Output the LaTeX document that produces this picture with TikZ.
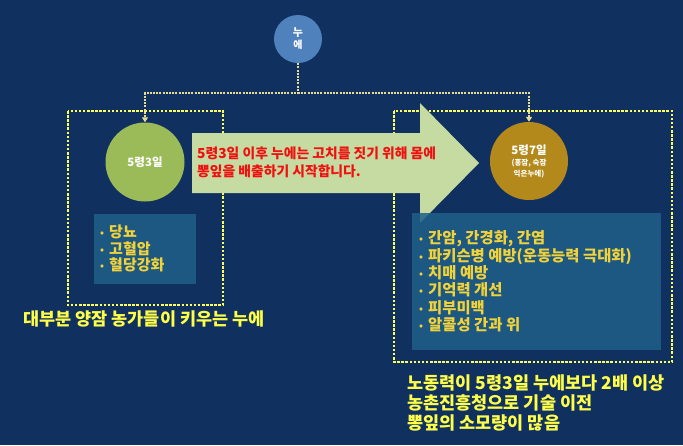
\documentclass[tikz,border=0pt]{standalone}
\usepackage{fontspec}
\setmainfont{Noto Sans CJK KR}
\usetikzlibrary{arrows.meta}
\definecolor{bg}{HTML}{10315F}
\definecolor{topblue}{HTML}{4F81BD}
\definecolor{leftgreen}{HTML}{9BBB59}
\definecolor{goldc}{HTML}{B3891B}
\definecolor{panelc}{HTML}{1F5F88}
\definecolor{arrowc}{HTML}{C6DBA1}
\definecolor{boxyellow}{HTML}{FFFF5A}
\definecolor{connc}{HTML}{E6DC96}
\definecolor{listyellow}{HTML}{F2D23A}
\definecolor{bottomyellow}{HTML}{FFFF4A}
\definecolor{msgred}{HTML}{F01010}
\newcommand\bul{\raisebox{1pt}{\fontsize{10}{10}\selectfont •}\hspace{5pt}}
\begin{document}
\begin{tikzpicture}[x=1pt,y=-1pt]
\useasboundingbox (0,0) rectangle (683,445);
\fill[bg] (0,0) rectangle (683,445);
\tikzset{
  circ/.style={circle, inner sep=0pt, text=white, align=center, font=\bfseries},
  dotbox/.style={draw=boxyellow, line width=2.5pt, dash pattern=on 2.5pt off 1.6pt},
  panel/.style={fill=panelc, fill opacity=0.85, inner sep=0pt, anchor=north west},
  conn/.style={draw=connc, line width=2pt, dash pattern=on 2pt off 1.2pt, -{Triangle[width=6pt,length=5pt]}},
  listtext/.style={anchor=west, align=left, text=listyellow, inner sep=0pt},
  bottomtext/.style={align=left, text=bottomyellow, font=\bfseries\fontsize{17.5}{20}\selectfont, inner sep=0pt},
}
% dotted boxes
\draw[dotbox] (68,111) rectangle (223,305);
\draw[dotbox] (394,111) rectangle (672,362);
% circles
\node[circ, fill=topblue, minimum size=48pt] (silk) at (298,39) {\fontsize{11}{14}\selectfont 누\\에};
\node[circ, fill=leftgreen, minimum size=79pt] (c3) at (145,162) {\fontsize{11.5}{13}\selectfont 5령3일};
\node[circ, fill=goldc, minimum size=78pt] (c7) at (529,161) {\fontsize{11.5}{12}\selectfont 5령7일\\[-1pt]{\fontsize{7.5}{10}\selectfont (홍잠, 숙잠}\\[-1pt]{\fontsize{7.5}{10}\selectfont 익은누에)}};
% connectors
\coordinate (j) at (298,93);
\draw[conn] (silk.south) -- (j) -| (c3.north);
\draw[conn] (j) -| (c7.north);
% big arrow
\fill[arrowc] (192,133) -- (420,133) -- (420,103) -- (479,163) -- (420,223) -- (420,193) -- (192,193) -- cycle;
\node[anchor=west, align=left, text=msgred, inner sep=0pt, font=\bfseries\fontsize{13.8}{18}\selectfont] (msg) at (197,162) {5령3일 이후 누에는 고치를 짓기 위해 몸에\\뽕잎을 배출하기 시작합니다.};
% panels
\node[panel, minimum width=102pt, minimum height=70pt] (p3) at (94,214) {};
\node[panel, minimum width=249pt, minimum height=137pt] (p7) at (412,213) {};
\node[listtext, font=\bfseries\fontsize{15}{16.6}\selectfont] (t3) at (100,248.5) {\bul 당뇨\\\bul 고혈압\\\bul 혈당강화};
\node[listtext, font=\bfseries\fontsize{15.4}{17.4}\selectfont] (t7) at (419,281.5) {\bul 간암, 간경화, 간염\\\bul 파키슨병 예방(운동능력 극대화)\\\bul 치매 예방\\\bul 기억력 개선\\\bul 피부미백\\\bul 알콜성 간과 위};
% bottom texts
\node[bottomtext, anchor=center] (b3) at (144,319) {대부분 양잠 농가들이 키우는 누에};
\node[bottomtext, anchor=west] (b7) at (407,403) {노동력이 5령3일 누에보다 2배 이상\\농촌진흥청으로 기술 이전\\뽕잎의 소모량이 많음};
\end{tikzpicture}
\end{document}
